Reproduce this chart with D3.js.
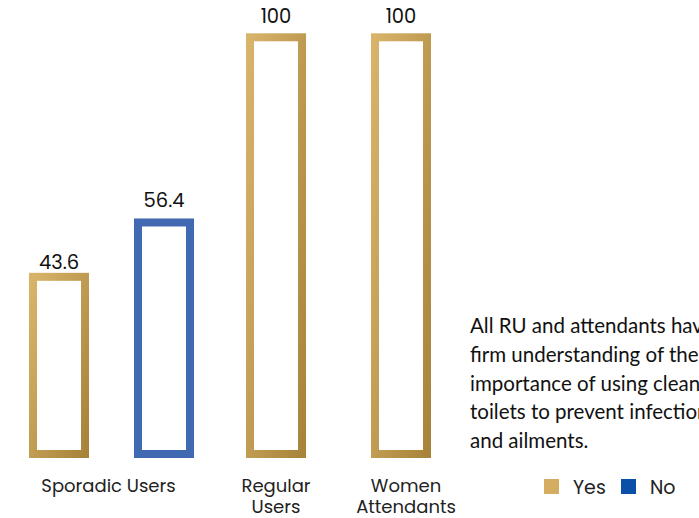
<!DOCTYPE html>
<html>
<head>
<meta charset="utf-8">
<script src="https://cdn.jsdelivr.net/npm/d3@7"></script>
<style>
  html, body { margin: 0; padding: 0; background: #ffffff; }
  svg { display: block; }
</style>
</head>
<body>
<svg id="chart" width="699" height="518"></svg>
<script>
// ---- data ----
const categories = ["Sporadic Users", "Regular Users", "Women Attendants"];
const categoryLines = [["Sporadic Users"], ["Regular", "Users"], ["Women", "Attendants"]];
const seriesNames = ["Yes", "No"];
const yesValues = [43.6, 100, 100];
const noValues = [56.4, null, null];
const valueLabels = ["43.6", "56.4", "100", "100"];
const annotationLines = [
  "All RU and attendants have a",
  "firm understanding of the",
  "importance of using clean",
  "toilets to prevent infections",
  "and ailments."
];

// ---- layout ----
const W = 699, H = 518;
const baseY = 458, topY = 33.3;
const barW = 60, strokeW = 8;
const svg = d3.select("#chart");
const defs = svg.append("defs");
const grad = defs.append("linearGradient").attr("id", "gold")
  .attr("x1", 0).attr("y1", 0).attr("x2", 1).attr("y2", 1);
grad.append("stop").attr("offset", "0%").attr("stop-color", "#d8b46a");
grad.append("stop").attr("offset", "100%").attr("stop-color", "#a8833a");

// build bar records
const bars = [];
categories.forEach((c, i) => {
  if (yesValues[i] != null) bars.push({ cat: c, series: "Yes", value: yesValues[i] });
  if (noValues[i] != null) bars.push({ cat: c, series: "No", value: noValues[i] });
});
bars.forEach((b, i) => { b.key = b.cat + "|" + b.series; b.label = valueLabels[i]; });

const x = d3.scaleOrdinal().domain(bars.map(b => b.key)).range([59, 164, 276, 401]);
const y = d3.scaleLinear().domain([0, 100]).range([baseY, topY]);
const color = d3.scaleOrdinal().domain(seriesNames).range(["url(#gold)", "#4169b2"]);
const legendColor = d3.scaleOrdinal().domain(seriesNames).range(["#d4ad62", "#0b50a8"]);
const labelGap = [4, 11, 10, 10];

svg.selectAll("rect.bar").data(bars).join("rect")
  .attr("class", "bar")
  .attr("x", d => x(d.key) - barW / 2 + strokeW / 2)
  .attr("y", d => y(d.value) + strokeW / 2)
  .attr("width", barW - strokeW)
  .attr("height", d => baseY - y(d.value) - strokeW)
  .attr("fill", "none")
  .attr("stroke", d => color(d.series))
  .attr("stroke-width", strokeW);

svg.selectAll("text.val").data(bars).join("text")
  .attr("class", "val")
  .attr("x", d => x(d.key))
  .attr("y", (d, i) => y(d.value) - labelGap[i])
  .attr("text-anchor", "middle")
  .attr("font-family", "Poppins, Inter, sans-serif")
  .attr("font-size", 19.5)
  .attr("fill", "#111")
  .text(d => d.label);

// category labels
const catShift = [-3, 0, 5];
const catCenter = categories.map((c, i) => d3.mean(bars.filter(b => b.cat === c), b => x(b.key)) + catShift[i]);
categories.forEach((c, i) => {
  const t = svg.append("text")
    .attr("x", catCenter[i])
    .attr("y", 492)
    .attr("text-anchor", "middle")
    .attr("font-family", "Poppins, Inter, sans-serif")
    .attr("font-size", 18)
    .attr("fill", "#222");
  categoryLines[i].forEach((ln, j) => {
    t.append("tspan").attr("x", catCenter[i]).attr("dy", j === 0 ? 0 : 20.5).text(ln);
  });
});

// annotation
const ann = svg.append("text")
  .attr("x", 470).attr("y", 333)
  .attr("font-family", "Lato, sans-serif")
  .attr("font-size", 20.5)
  .attr("fill", "#111");
annotationLines.forEach((ln, j) => {
  ann.append("tspan").attr("x", 470).attr("dy", j === 0 ? 0 : 28.8).text(ln);
});

// legend
const legendX = [544, 621];
seriesNames.forEach((s, i) => {
  svg.append("rect")
    .attr("x", legendX[i]).attr("y", 479)
    .attr("width", 15).attr("height", 15)
    .attr("fill", legendColor(s));
  svg.append("text")
    .attr("x", legendX[i] + 29).attr("y", 494)
    .attr("font-family", "Poppins, Inter, sans-serif")
    .attr("font-size", 19)
    .attr("fill", "#222")
    .text(s);
});
</script>
</body>
</html>
